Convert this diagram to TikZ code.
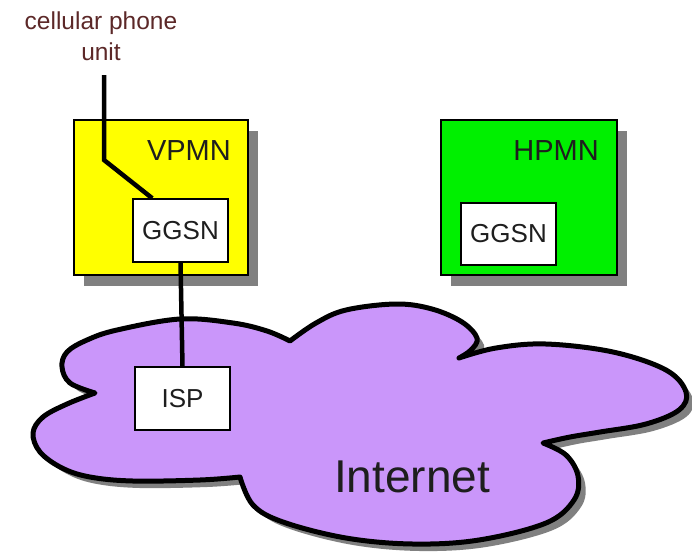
\documentclass[tikz,border=0pt]{standalone}
\usepackage{fontspec}
\setmainfont{Liberation Sans}
\usetikzlibrary{shadows}
\pgfdeclarelayer{bg}
\pgfdeclarelayer{wires}
\pgfdeclarelayer{front}
\pgfsetlayers{bg,main,wires,front}
\definecolor{labelcol}{RGB}{92,40,40}
\definecolor{shadowgray}{RGB}{128,128,128}
\definecolor{vyellow}{RGB}{255,255,0}
\definecolor{hgreen}{RGB}{0,240,0}
\definecolor{cloudcol}{RGB}{202,150,250}
\definecolor{textdark}{RGB}{30,30,30}
\tikzset{
  netbox/.style={draw=black, line width=1.6pt, minimum width=174pt, minimum height=155pt, inner sep=0pt,
    general shadow={fill=shadowgray, shadow xshift=10pt, shadow yshift=-11pt}},
  whitebox/.style={draw=black, line width=1.5pt, fill=white, minimum width=95pt, minimum height=63pt, inner sep=0pt,
    text=textdark, font=\fontsize{26}{30}\selectfont},
  netlabel/.style={anchor=east, inner sep=0pt, text=textdark, font=\fontsize{29}{30}\selectfont},
  wire/.style={draw=black, line width=4.5pt},
}
\def\cloudpath{plot[smooth, tension=0.6] coordinates {(95,393) (70,383) (62,367) (67,352) (87,340) (117,330) (180,319) (233,323) (267,331) (290,341)}
 -- plot[smooth, tension=0.6] coordinates {(290,341) (316,323) (346,310) (396,304) (432,309) (462,322) (477,338) (471,350) (459,358)}
 -- plot[smooth, tension=0.6] coordinates {(459,358) (496,348) (546,344) (613,352) (666,370) (686,392) (679,410) (646,424) (600,432) (570,437) (543,443)}
 -- plot[smooth, tension=0.6] coordinates {(543,443) (566,455) (578,476) (574,500) (546,523) (479,540) (413,544) (346,538) (283,522) (253,505) (240,477)}
 -- plot[smooth, tension=0.6] coordinates {(240,477) (200,480) (133,481) (90,477) (62,468) (40,452) (33,433) (43,417) (67,404) (95,393)}
 -- cycle}
\begin{document}
\begin{tikzpicture}[x=1pt, y=-1pt]
\begin{pgfonlayer}{bg}
\useasboundingbox[fill=white] (0,0) rectangle (692,557);
% cloud
\fill[shadowgray, shift={(7,7)}] \cloudpath;
\path[fill=cloudcol, draw=black, line width=5pt, line join=round] \cloudpath;
\end{pgfonlayer}
\node[inner sep=0pt, text=textdark, font=\fontsize{46}{50}\selectfont] (inet) at (412,477) {Internet};
% network boxes
\node[netbox, fill=vyellow] (vpmn) at (161,197.5) {};
\node[netbox, fill=hgreen, minimum width=176pt] (hpmn) at (529,197.5) {};
\node[netlabel] (vpmnlbl) at (231,151) {VPMN};
\node[netlabel] (hpmnlbl) at (599,151) {HPMN};
% label
\node[align=center, inner sep=0pt, text=labelcol, font=\fontsize{24.5}{31}\selectfont] (cell) at (101,36) {cellular phone\\unit};
\coordinate (ctop) at (104,75);
\coordinate (bend) at (104,160);
% white boxes in front
\begin{pgfonlayer}{front}
\node[whitebox] (ggsnv) at (180.5,230.5) {GGSN};
\node[whitebox] (isp) at (182.5,398.5) {ISP};
\node[whitebox, minimum height=62pt] (ggsnh) at (508.5,234) {GGSN};
\end{pgfonlayer}
% wires
\begin{pgfonlayer}{wires}
\draw[wire, line join=miter] (ctop) -- (bend) -- ([xshift=20pt]ggsnv.north west);
\draw[wire] (ggsnv.south) -- (isp.north);
\end{pgfonlayer}
\end{tikzpicture}
\end{document}
